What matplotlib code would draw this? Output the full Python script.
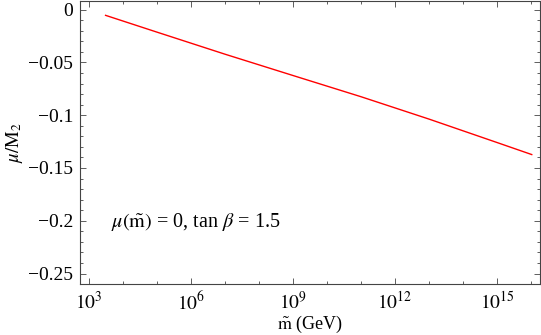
import numpy as np
import matplotlib
matplotlib.use("Agg")
import matplotlib.pyplot as plt
from matplotlib.ticker import FixedLocator, FuncFormatter, MultipleLocator

plt.rcParams['font.family'] = ['Liberation Serif', 'DejaVu Serif']
plt.rcParams['mathtext.fontset'] = 'stix'

# data
log_m = [3.49, 5.0, 7.0, 9.0, 11.0, 13.0, 15.0, 16.02]
mu_over_M2 = [-0.0054, -0.0213, -0.0422, -0.0624, -0.0825, -0.1037, -0.1259, -0.1373]
x_major = [3, 6, 9, 12, 15]
y_ticks = [0, -0.05, -0.1, -0.15, -0.2, -0.25]
annotation = r"$\mu(\tilde{\mathrm{m}})$ = 0, tan $\beta$ = 1.5"

m = 10.0 ** np.array(log_m)

fig = plt.figure(figsize=(5.41, 3.35), dpi=100)
ax = fig.add_axes([0.148, 0.152, 0.850, 0.846])
ax.plot(m, mu_over_M2, color='#ff0000', lw=1.0)
ax.set_xscale('log')
ax.set_xlim(10 ** 2.74, 10 ** 16.26)
ax.set_ylim(-0.26, 0.0085)

ax.xaxis.set_major_locator(FixedLocator([10.0 ** e for e in x_major]))
ax.xaxis.set_minor_locator(FixedLocator([10.0 ** e for e in range(3, 17)]))
ax.xaxis.set_major_formatter(FuncFormatter(lambda v, p: r"$10^{%d}$" % round(np.log10(v))))
ax.xaxis.set_minor_formatter(FuncFormatter(lambda v, p: ""))
ax.yaxis.set_major_locator(FixedLocator(y_ticks))
ax.yaxis.set_minor_locator(MultipleLocator(0.01))
ax.yaxis.set_major_formatter(FuncFormatter(lambda v, p: "0" if abs(v) < 1e-9 else ("\u2212%g" % abs(v))))

frame = '#444444'
for s in ax.spines.values():
    s.set_color(frame)
    s.set_linewidth(0.8)
ax.tick_params(which='both', direction='in', top=True, right=True, color=frame, labelsize=14, width=0.6)
ax.tick_params(which='major', length=4.5, pad=5)
ax.tick_params(which='minor', length=2.5)

ax.set_xlabel(r"$\tilde{\mathrm{m}}$ (GeV)", fontsize=13, labelpad=0)
ax.set_ylabel(r"$\mu/\mathrm{M}_2$", fontsize=13.5, labelpad=2)
ax.text(0.067, 0.218, annotation, transform=ax.transAxes, fontsize=14.5, va='center', ha='left')

fig.savefig("out.png", dpi=100)
